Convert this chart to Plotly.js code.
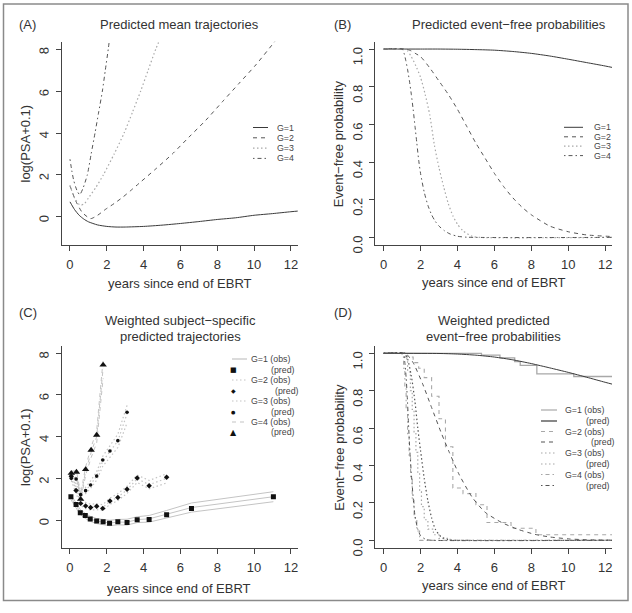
<!DOCTYPE html>
<html>
<head>
<meta charset="utf-8">
<script src="https://cdn.plot.ly/plotly-3.0.1.min.js"></script>
<style>html,body{margin:0;padding:0;background:#fff;}#chart{width:632px;height:613px;}</style>
</head>
<body>
<div id="chart"></div>
<script>
// ---------- DATA ----------
// Panel A: predicted mean trajectories (log(PSA+0.1))
const tA1 = [0,0.25,0.5,0.75,1,1.5,2,2.5,3,4,5,6,7,8,9,10,11,12,12.5];
const yA1 = [0.72,0.35,0.08,-0.1,-0.23,-0.38,-0.45,-0.48,-0.48,-0.45,-0.39,-0.31,-0.22,-0.12,-0.04,0.08,0.16,0.25,0.29];
const tA2 = [0,0.31,0.67,1.12,1.5,1.94,2.4,2.85,3.3,3.75,4.66,5.56,6.47,7.38,8.28,9.19,10.1,11.09,11.3];
const yA2 = [1.49,0.77,0.21,-0.08,0.08,0.37,0.64,0.93,1.26,1.6,2.29,3.0,3.81,4.61,5.49,6.37,7.25,8.32,8.55];
const tA3 = [0,0.25,0.5,0.6,0.8,1.0,1.4,1.81,2.4,2.94,3.4,3.84,4.25,4.66,4.9];
const yA3 = [1.5,0.9,0.6,0.56,0.65,0.9,1.4,2.0,3.0,4.0,5.0,6.0,7.0,8.0,8.5];
const tA4 = [0,0.1,0.2,0.3,0.4,0.53,0.7,0.94,1.15,1.36,1.56,1.76,1.92,2.08,2.15];
const yA4 = [2.75,2.2,1.75,1.45,1.22,1.06,1.35,2.0,3.0,4.0,5.0,6.0,7.0,8.0,8.5];

// Panel B: predicted event-free probabilities
const tB1 = [0,2,3,4,5,6,7,8,9,10,11,12,12.5];
const yB1 = [1,1,1,0.999,0.997,0.994,0.987,0.977,0.963,0.946,0.928,0.91,0.90];
const tB2 = [0,1.2,1.5,1.75,2.0,2.5,3.0,3.5,4.0,4.5,5.0,5.5,6.0,6.5,7.0,7.5,8.0,9.0,10,11,12.5];
const yB2 = [1,1,0.99,0.975,0.96,0.9,0.83,0.76,0.68,0.59,0.5,0.42,0.34,0.27,0.21,0.16,0.12,0.06,0.03,0.013,0.004];
const tB3 = [0,1.15,1.3,1.5,1.75,2.0,2.25,2.5,2.75,3.0,3.25,3.5,3.75,4.0,4.3,4.8,5.2,12.5];
const yB3 = [1,1,0.99,0.96,0.91,0.85,0.76,0.65,0.49,0.37,0.27,0.18,0.115,0.07,0.035,0.006,0,0];
const tB4 = [0,1.0,1.1,1.2,1.3,1.4,1.5,1.6,1.7,1.8,1.9,2.0,2.2,2.4,2.6,2.8,3.0,3.3,3.6,4.0,4.5,12.5];
const yB4 = [1,1,0.98,0.94,0.89,0.83,0.76,0.68,0.59,0.5,0.41,0.34,0.24,0.17,0.12,0.085,0.06,0.035,0.018,0.006,0.001,0];

// Panel C: weighted subject-specific trajectories
const tC1 = [0.05,0.33,0.56,0.83,1.1,1.45,1.8,2.15,2.6,3.1,3.65,4.3,5.25,6.6,11.05];
const predC1 = [1.12,0.75,0.35,0.22,0.05,-0.05,-0.08,-0.15,-0.08,-0.12,0.01,0.03,0.25,0.56,1.12];
const obsC1 = [1.1,0.72,0.38,0.2,0.06,-0.05,-0.1,-0.14,-0.1,-0.1,0.02,0.06,0.28,0.6,1.12];
const loC1 = [0.98,0.6,0.26,0.08,-0.06,-0.17,-0.22,-0.27,-0.23,-0.24,-0.12,-0.1,0.1,0.38,0.88];
const hiC1 = [1.22,0.84,0.5,0.32,0.18,0.07,0.02,-0.01,0.03,0.04,0.16,0.22,0.46,0.82,1.36];
const tC2 = [0.07,0.33,0.58,0.85,1.12,1.45,1.78,2.17,2.6,3.1,3.65,4.3,5.25];
const predC2 = [2.1,1.42,0.8,0.68,0.6,0.66,0.56,0.91,1.08,1.48,2.02,1.65,2.05];
const obsC2 = [2.05,1.45,0.85,0.7,0.62,0.64,0.6,0.9,1.1,1.45,1.98,1.7,2.0];
const loC2 = [1.9,1.3,0.7,0.55,0.48,0.5,0.46,0.75,0.93,1.28,1.8,1.5,1.78];
const hiC2 = [2.2,1.6,1.0,0.85,0.76,0.78,0.74,1.05,1.27,1.62,2.16,1.9,2.22];
const tC3 = [0.07,0.33,0.58,0.85,1.12,1.45,1.78,2.17,2.6,3.1];
const predC3 = [2.0,1.97,1.22,1.41,1.68,2.11,2.88,3.31,3.81,5.17];
const obsC3 = [2.0,1.9,1.28,1.42,1.7,2.12,2.82,3.3,3.8,5.1];
const loC3 = [1.86,1.76,1.14,1.27,1.52,1.92,2.58,3.02,3.48,4.66];
const hiC3 = [2.14,2.04,1.42,1.57,1.88,2.32,3.06,3.58,4.12,5.5];
const tC4 = [0.07,0.35,0.58,0.85,1.15,1.45,1.8];
const predC4 = [2.25,2.3,1.0,2.43,3.36,4.08,7.44];
const obsC4 = [2.18,2.2,1.1,2.35,3.25,4.0,7.3];
const loC4 = [2.02,2.04,0.95,2.15,3.0,3.7,6.8];
const hiC4 = [2.34,2.36,1.25,2.55,3.5,4.3,7.7];

// Panel D: weighted event-free probabilities (obs = step curves)
const tD1o = [0,5.3,6.3,7.1,7.4,8.3,10.3,12.5];
const yD1o = [1,0.99,0.975,0.955,0.935,0.89,0.876,0.876];
const tD1p = [0,3,4,5,6,7,8,9,10,11,12,12.5];
const yD1p = [1,0.999,0.996,0.99,0.98,0.965,0.945,0.922,0.898,0.872,0.845,0.832];
const tD2o = [0,1.2,1.6,1.9,2.2,2.6,3.0,3.35,3.75,4.3,5.0,5.6,6.9,8.25,12.5];
const yD2o = [1,0.98,0.95,0.92,0.87,0.77,0.65,0.5,0.28,0.25,0.19,0.095,0.065,0.03,0.03];
const tD2p = [0,1.15,1.3,1.6,2.1,2.6,3.1,3.56,4.1,4.8,5.5,6.4,7.3,8.2,9,10,11,12.5];
const yD2p = [1,1,0.99,0.95,0.84,0.71,0.58,0.47,0.35,0.23,0.15,0.095,0.058,0.032,0.018,0.008,0.003,0.001];
const tD3o = [0,1.15,1.3,1.45,1.55,1.65,1.75,1.85,1.95,2.05,2.2,2.4,2.7,3.0,3.6,12.5];
const yD3o = [1,0.97,0.9,0.8,0.7,0.58,0.47,0.36,0.26,0.18,0.11,0.06,0.03,0.01,0,0];
const tD3p = [0,1.15,1.3,1.5,1.7,1.85,2.0,2.2,2.4,2.6,2.8,3.1,3.5,4,12.5];
const yD3p = [1,1,0.97,0.88,0.74,0.6,0.48,0.33,0.21,0.12,0.06,0.02,0.003,0,0];
const tD4o = [0,1.0,1.08,1.15,1.22,1.3,1.38,1.46,1.55,1.65,1.8,1.95,12.5];
const yD4o = [1,0.98,0.92,0.82,0.7,0.57,0.45,0.33,0.22,0.12,0.05,0,0];
const tD4p = [0,1.05,1.15,1.22,1.28,1.35,1.42,1.5,1.6,1.7,1.85,2.0,2.3,2.7,12.5];
const yD4p = [1,1,0.95,0.87,0.77,0.62,0.48,0.36,0.23,0.13,0.06,0.025,0.004,0,0];

// Tick labels
const xTicks = [0,2,4,6,8,10,12];
const yTicksLog = [0,2,4,6,8];
const yTicksProb = [0,0.2,0.4,0.6,0.8,1.0];
const yTickTextProb = ['0.0','0.2','0.4','0.6','0.8','1.0'];

// ---------- STYLE / LAYOUT ----------
const W = 632, H = 613;
const px = v => v / W, py = v => 1 - v / H;
const FONT = 'Liberation Sans, Arial, Helvetica, sans-serif';
const TXT = '#333';
const DARK = '#3a3a3a', MID = '#555', LIGHT = '#a8a8a8', OBS = '#c4c4c4';
const DASH = '4px,4px', DOT = '1.5px,2.5px', DOTDASH = '1.5px,3px,4px,3px';

const colL = [61.7, 297.7], colR = [375.3, 612];
const rowT = [41.7, 245.3], rowB = [346, 548.2];

function line(x, y, xa, ya, color, dash, width, shape) {
  return {x, y, xaxis: xa, yaxis: ya, type: 'scatter', mode: 'lines',
    line: {color, dash: dash || 'solid', width: width || 1, shape: shape || 'spline', smoothing: 0.6},
    hoverinfo: 'skip', showlegend: false};
}
function pts(x, y, xa, ya, symbol, size) {
  return {x, y, xaxis: xa, yaxis: ya, type: 'scatter', mode: 'markers',
    marker: {symbol, size, color: '#111'}, hoverinfo: 'skip', showlegend: false};
}

const traces = [
  line(tA1, yA1, 'x', 'y', DARK, 'solid'),
  line(tA2, yA2, 'x', 'y', MID, DASH),
  line(tA3, yA3, 'x', 'y', LIGHT, DOT, 1.2),
  line(tA4, yA4, 'x', 'y', MID, DOTDASH),

  line(tB1, yB1, 'x2', 'y2', DARK, 'solid'),
  line(tB2, yB2, 'x2', 'y2', MID, DASH),
  line(tB3, yB3, 'x2', 'y2', LIGHT, DOT, 1.2),
  line(tB4, yB4, 'x2', 'y2', MID, DOTDASH),

  line(tC1, loC1, 'x3', 'y3', OBS, 'solid', 1, 'linear'),
  line(tC1, obsC1, 'x3', 'y3', OBS, 'solid', 1, 'linear'),
  line(tC1, hiC1, 'x3', 'y3', OBS, 'solid', 1, 'linear'),
  line(tC2, loC2, 'x3', 'y3', OBS, DOT, 1.2, 'linear'),
  line(tC2, obsC2, 'x3', 'y3', OBS, DOT, 1.2, 'linear'),
  line(tC2, hiC2, 'x3', 'y3', OBS, DOT, 1.2, 'linear'),
  line(tC3, loC3, 'x3', 'y3', OBS, DOT, 1.2, 'linear'),
  line(tC3, obsC3, 'x3', 'y3', OBS, DOT, 1.2, 'linear'),
  line(tC3, hiC3, 'x3', 'y3', OBS, DOT, 1.2, 'linear'),
  line(tC4, loC4, 'x3', 'y3', OBS, DASH, 1, 'linear'),
  line(tC4, obsC4, 'x3', 'y3', OBS, DASH, 1, 'linear'),
  line(tC4, hiC4, 'x3', 'y3', OBS, DASH, 1, 'linear'),
  pts(tC1, predC1, 'x3', 'y3', 'square', 5),
  pts(tC2, predC2, 'x3', 'y3', 'diamond', 4.2),
  pts(tC3, predC3, 'x3', 'y3', 'circle', 3.6),
  pts(tC4, predC4, 'x3', 'y3', 'triangle-up', 6.5),

  line(tD1o, yD1o, 'x4', 'y4', LIGHT, 'solid', 1.3, 'hv'),
  line(tD2o, yD2o, 'x4', 'y4', LIGHT, DASH, 1.1, 'hv'),
  line(tD3o, yD3o, 'x4', 'y4', LIGHT, DOT, 1.2, 'hv'),
  line(tD4o, yD4o, 'x4', 'y4', LIGHT, DOTDASH, 1.1, 'hv'),
  line(tD1p, yD1p, 'x4', 'y4', DARK, 'solid'),
  line(tD2p, yD2p, 'x4', 'y4', MID, DASH),
  line(tD3p, yD3p, 'x4', 'y4', MID, DOT, 1.2),
  line(tD4p, yD4p, 'x4', 'y4', MID, DOTDASH)
];

function xax(dom, anchor) {
  return {domain: [px(dom[0]), px(dom[1])], anchor, range: [-0.45, 12.37],
    showline: true, linecolor: '#444', linewidth: 1, ticks: 'outside', ticklen: 5,
    tickcolor: '#444', tickwidth: 1, showgrid: false, zeroline: false,
    tickvals: xTicks, ticktext: xTicks.map(String),
    tickfont: {family: FONT, size: 13, color: TXT}, ticklabelstandoff: 2, fixedrange: true};
}
function yax(dom, anchor, range, vals, text) {
  return {domain: [py(dom[1]), py(dom[0])], anchor, range,
    showline: true, linecolor: '#444', linewidth: 1, ticks: 'outside', ticklen: 5,
    tickcolor: '#444', tickwidth: 1, showgrid: false, zeroline: false,
    tickvals: vals, ticktext: text, tickangle: -89.9, ticklabelstandoff: 11,
    tickfont: {family: FONT, size: 13, color: TXT}, fixedrange: true};
}

const annotations = [];
const shapes = [];
function txt(x, y, text, opts) {
  annotations.push(Object.assign({xref: 'paper', yref: 'paper', x: px(x), y: py(y), text,
    showarrow: false, xanchor: 'center', yanchor: 'middle',
    font: {family: FONT, size: 13, color: TXT}}, opts || {}));
}
// Panel labels & titles
txt(17, 25, '(A)', {xanchor: 'left'});
txt(332, 25, '(B)', {xanchor: 'left'});
txt(17, 313, '(C)', {xanchor: 'left'});
txt(332, 313, '(D)', {xanchor: 'left'});
txt(179.7, 25, 'Predicted mean trajectories');
txt(508.5, 25, 'Predicted event\u2212free probabilities');
txt(180, 320, 'Weighted subject\u2212specific');
txt(180, 336, 'predicted trajectories');
txt(494, 320, 'Weighted predicted');
txt(494, 336, 'event\u2212free probabilities');
// Axis titles
txt(179.7, 283.3, 'years since end of EBRT');
txt(493.7, 282, 'years since end of EBRT');
txt(178.5, 588, 'years since end of EBRT');
txt(493.5, 585.5, 'years since end of EBRT');
txt(25, 143.5, 'log(PSA+0.1)', {textangle: -90});
txt(338.7, 143.5, 'Event\u2212free probability', {textangle: -90});
txt(25, 447, 'log(PSA+0.1)', {textangle: -90});
txt(338.7, 447, 'Event\u2212free probability', {textangle: -90});

// Legends
const LFONT = {family: FONT, size: 8.8, color: '#444'};
function legLine(x0, x1, y, color, dash, width) {
  shapes.push({type: 'line', xref: 'paper', yref: 'paper', x0: px(x0), x1: px(x1), y0: py(y), y1: py(y),
    line: {color, dash, width: width || 1}});
}
function legText(x, y, t) { txt(x, y, t, {xanchor: 'left', font: LFONT}); }
function legSym(x, y, ch, size) {
  txt(x, y, ch, {font: {family: 'DejaVu Sans', size, color: '#111'}});
}
const gA = ['G=1', 'G=2', 'G=3', 'G=4'];
const stylesA = [[DARK, 'solid'], [MID, DASH], [LIGHT, DOT], [MID, DOTDASH]];
const rowsA = [127.5, 137.8, 148.1, 158.4];
const rowsB = [127.3, 136.8, 146.2, 155.6];
gA.forEach((g, i) => {
  legLine(253, 268, rowsA[i], stylesA[i][0], stylesA[i][1], i === 2 ? 1.2 : 1);
  legText(275, rowsA[i], g);
  legLine(564, 583, rowsB[i], stylesA[i][0], stylesA[i][1], i === 2 ? 1.2 : 1);
  legText(592, rowsB[i], g);
});
// Panel C legend
const rowsC = [359, 369.5, 380, 390.5, 401, 411.5, 422, 432.5];
const obsDashC = ['solid', DOT, DOT, DASH];
const symC = ['\u25A0', '\u25C6', '\u25CF', '\u25B2'];
const symSizeC = [7, 6, 5, 8];
const predXC = [269, 273, 269, 269];
for (let i = 0; i < 4; i++) {
  legLine(232, 247, rowsC[2 * i], OBS, obsDashC[i], 1.2);
  legText(249, rowsC[2 * i], gA[i] + ' (obs)');
  legSym(233.5, rowsC[2 * i + 1], symC[i], symSizeC[i]);
  legText(predXC[i], rowsC[2 * i + 1], '(pred)');
}
// Panel D legend
const rowsD = [410, 421, 431.5, 442, 453, 464, 474.5, 485.5];
const stylesDo = [[LIGHT, 'solid'], [LIGHT, DASH], [LIGHT, DOT], [LIGHT, DOTDASH]];
const predXD = [584, 589, 584, 584];
for (let i = 0; i < 4; i++) {
  legLine(541, 557, rowsD[2 * i], stylesDo[i][0], stylesDo[i][1], 1.2);
  legText(563, rowsD[2 * i], gA[i] + ' (obs)');
  legLine(541, 557, rowsD[2 * i + 1], stylesA[i][0], stylesA[i][1], 1.2);
  legText(predXD[i], rowsD[2 * i + 1], '(pred)');
}
// Outer frame
shapes.push({type: 'rect', xref: 'paper', yref: 'paper', x0: px(3.5), x1: px(628), y0: py(600.5), y1: py(4),
  line: {color: '#8a8a8a', width: 1.5}});

const layout = {
  width: W, height: H, margin: {l: 0, r: 0, t: 0, b: 0},
  paper_bgcolor: '#fff', plot_bgcolor: '#fff', showlegend: false,
  font: {family: FONT, color: TXT},
  xaxis: xax(colL, 'y'), yaxis: yax(rowT, 'x', [-1.35, 8.35], yTicksLog, yTicksLog.map(String)),
  xaxis2: xax(colR, 'y2'), yaxis2: yax(rowT, 'x2', [-0.042, 1.039], yTicksProb, yTickTextProb),
  xaxis3: xax(colL, 'y3'), yaxis3: yax(rowB, 'x3', [-1.35, 8.35], yTicksLog, yTicksLog.map(String)),
  xaxis4: xax(colR, 'y4'), yaxis4: yax(rowB, 'x4', [-0.042, 1.039], yTicksProb, yTickTextProb),
  annotations, shapes
};
Plotly.newPlot('chart', traces, layout, {staticPlot: true, displayModeBar: false});
</script>
</body>
</html>
